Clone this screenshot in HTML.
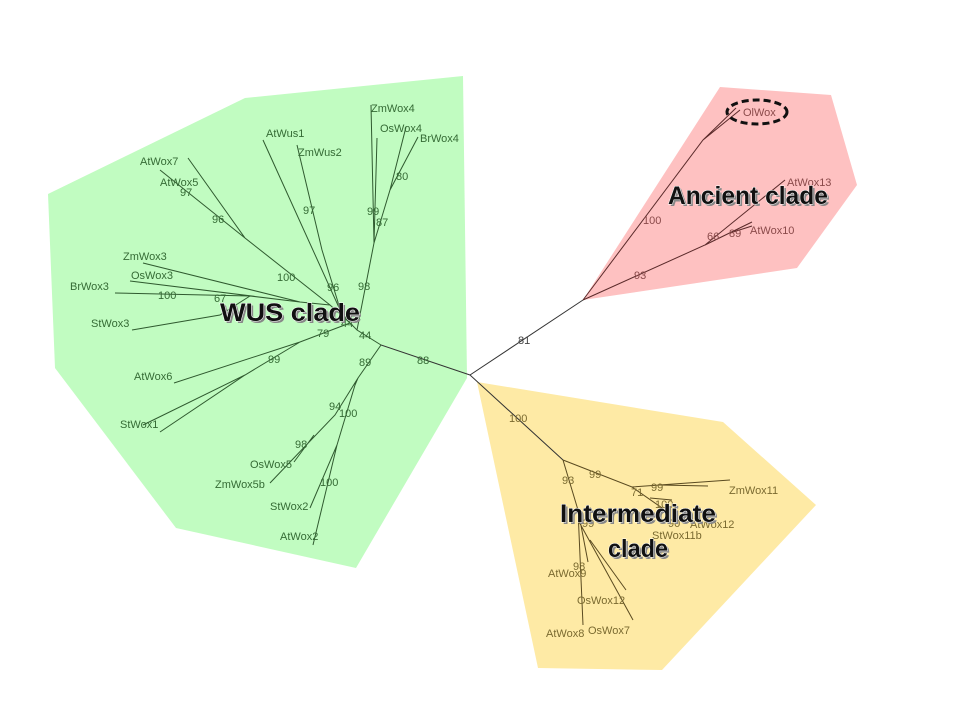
<!DOCTYPE html>
<html><head><meta charset="utf-8"><style>
html,body{margin:0;padding:0;background:#fff;}
svg{display:block;}
.g{font:11px "Liberation Sans",sans-serif;fill:#356b35;}
.r{font:11px "Liberation Sans",sans-serif;fill:#8a4a4a;}
.y{font:11px "Liberation Sans",sans-serif;fill:#7a6a30;}
.c{font:bold 25px "Liberation Sans",sans-serif;fill:#111;stroke:#fff;stroke-width:1px;paint-order:stroke;}
.s{font:bold 25px "Liberation Sans",sans-serif;fill:#888;}
</style></head><body>
<svg width="960" height="720" viewBox="0 0 960 720">
<polygon points="48,194 245,98 463,76 467,378 356,568 176,528 55,368" fill="#c1fcc1"/>
<polygon points="583,300 720,87 831,95 857,185 797,268" fill="#fec1c1"/>
<polygon points="477,382 723,422 816,505 662,670 538,668" fill="#feeaa5"/>
<g stroke="#333" stroke-width="1" fill="none">
<path d="M470,375 L583,300 M470,375 L381,345 M470,375 L563,460"/>
</g>
<g stroke="#2f5a2f" stroke-width="1" fill="none">
<path d="M381,345 L357,330 L350,323"/>
<path d="M357,330 L374,243 L371,105 M374,243 L377,138 M374,243 L390,190 L418,137 M390,190 L406,127"/>
<path d="M350,323 L341,312 L263,140 M341,312 L322,250 L297,145"/>
<path d="M350,323 L330,305 L245,238 L188,158 M245,238 L160,170"/>
<path d="M330,305 L300,302 L143,263 M300,302 L130,281 M300,302 L250,296 L115,293 M250,296 L220,315 L132,330"/>
<path d="M350,323 L300,342 L174,383 M300,342 L245,375 L143,425 M245,375 L160,432"/>
<path d="M381,345 L358,378 L335,415 L270,483 M314,435 L294,462 M358,378 L355,385 L337,445 L310,508 M337,445 L313,545"/>
</g>
<g stroke="#5a2a2a" stroke-width="1" fill="none">
<path d="M583,300 L703,140 L740,110 M703,140 L736,108"/>
<path d="M583,300 L705,245 L785,180 M705,245 L752,222 M730,233 L752,226"/>
</g>
<g stroke="#5a4a20" stroke-width="1" fill="none">
<path d="M563,460 L632,487 L730,480 M660,485 L708,486 M632,487 L665,510 M650,498 L672,500"/>
<path d="M563,460 L578,510 L583,625 M578,510 L588,562 M578,520 L633,620 M590,540 L626,590"/>
</g>
<ellipse cx="757" cy="112" rx="30" ry="12" fill="none" stroke="#111" stroke-width="3" stroke-dasharray="7,4"/>
<g class="g">
<text x="371" y="112">ZmWox4</text><text x="380" y="132">OsWox4</text><text x="420" y="142">BrWox4</text>
<text x="266" y="137">AtWus1</text><text x="298" y="156">ZmWus2</text>
<text x="140" y="165">AtWox7</text><text x="160" y="186">AtWox5</text><text x="180" y="196">97</text>
<text x="212" y="223">96</text><text x="123" y="260">ZmWox3</text><text x="131" y="279">OsWox3</text>
<text x="70" y="290">BrWox3</text><text x="158" y="299">100</text><text x="214" y="302">67</text>
<text x="91" y="327">StWox3</text><text x="277" y="281">100</text><text x="303" y="214">97</text>
<text x="327" y="291">96</text><text x="358" y="290">98</text><text x="367" y="215">99</text>
<text x="376" y="226">87</text><text x="396" y="180">80</text>
<text x="341" y="327">44</text><text x="359" y="339">44</text><text x="317" y="337">79</text>
<text x="134" y="380">AtWox6</text><text x="268" y="363">99</text><text x="120" y="428">StWox1</text>
<text x="359" y="366">89</text><text x="417" y="364">88</text>
<text x="329" y="410">94</text><text x="339" y="417">100</text><text x="295" y="448">98</text>
<text x="250" y="468">OsWox5</text><text x="215" y="488">ZmWox5b</text>
<text x="320" y="486">100</text><text x="270" y="510">StWox2</text><text x="280" y="540">AtWox2</text>
</g>
<g class="r">
<text x="743" y="116">OlWox</text><text x="787" y="186">AtWox13</text><text x="750" y="234">AtWox10</text>
<text x="643" y="224">100</text><text x="707" y="240">66</text><text x="729" y="237">89</text>
<text x="634" y="279">93</text>
</g>
<text x="518" y="344" style="font:11px 'Liberation Sans',sans-serif;fill:#444">81</text>
<g class="y">
<text x="509" y="422">100</text><text x="562" y="484">93</text><text x="589" y="478">99</text>
<text x="631" y="496">71</text><text x="651" y="491">99</text><text x="655" y="508">100</text>
<text x="668" y="527">90</text><text x="690" y="528">AtWox12</text><text x="652" y="539">StWox11b</text>
<text x="729" y="494">ZmWox11</text><text x="582" y="527">99</text>
<text x="573" y="570">98</text><text x="548" y="577">AtWox9</text>
<text x="577" y="604">OsWox12</text><text x="588" y="634">OsWox7</text><text x="546" y="637">AtWox8</text>
</g>
<text class="s" x="222" y="323" textLength="140" lengthAdjust="spacingAndGlyphs">WUS clade</text><text class="c" x="220" y="321" textLength="140" lengthAdjust="spacingAndGlyphs">WUS clade</text>
<text class="s" x="670" y="206" textLength="160" lengthAdjust="spacingAndGlyphs">Ancient clade</text><text class="c" x="668" y="204" textLength="160" lengthAdjust="spacingAndGlyphs">Ancient clade</text>
<text class="s" x="562" y="524" textLength="156" lengthAdjust="spacingAndGlyphs">Intermediate</text><text class="c" x="560" y="522" textLength="156" lengthAdjust="spacingAndGlyphs">Intermediate</text>
<text class="s" x="610" y="559" textLength="60" lengthAdjust="spacingAndGlyphs">clade</text><text class="c" x="608" y="557" textLength="60" lengthAdjust="spacingAndGlyphs">clade</text>
</svg>
</body></html>
